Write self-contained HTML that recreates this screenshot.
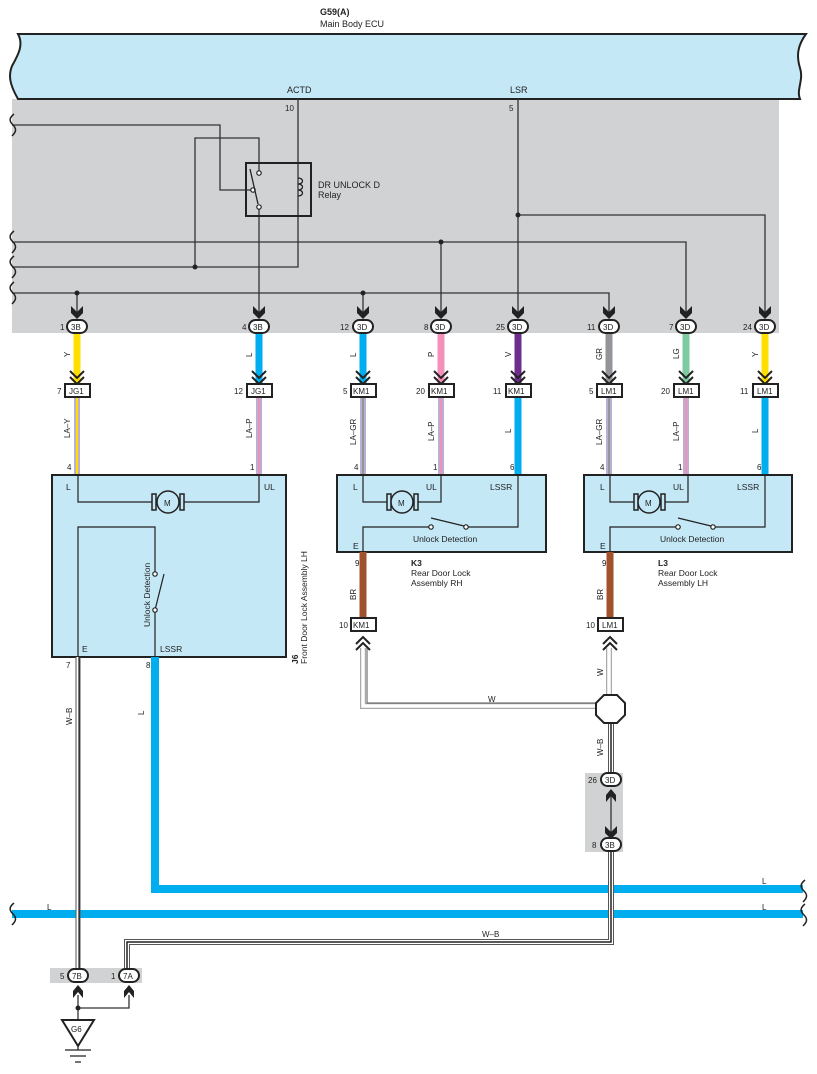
<!DOCTYPE html>
<html><head><meta charset="utf-8"><style>
html,body{margin:0;padding:0;background:#fff}
svg{display:block}
text{font-family:"Liberation Sans",sans-serif;fill:#222}
</style></head><body>
<svg width="817" height="1074" viewBox="0 0 817 1074" xmlns="http://www.w3.org/2000/svg">
<defs>
<g id="dn"><path d="M-6,-12 L0,-6 L6,-12 L6,-5 L0,1 L-6,-5 Z" fill="#222"/></g>
<g id="up"><path d="M-5,10 L0,4 L5,10 L5,3 L0,-3 L-5,3 Z" fill="#222"/></g>
<g id="dd"><path d="M-7,-12 L0,-5 L7,-12 M-7,-6 L0,1 L7,-6" fill="none" stroke="#222" stroke-width="2"/></g>
<g id="du"><path d="M-7,12 L0,5 L7,12 M-7,6 L0,-1 L7,6" fill="none" stroke="#222" stroke-width="2"/></g>
</defs>

<!-- gray area -->
<rect x="12" y="99" width="767" height="234" fill="#d1d2d4"/>
<!-- ECU -->
<path d="M18,34 L806,34 C798,45 796,55 800,68 C804,80 796,90 800,99 L18,99 C10,85 8,76 12,66 C18,55 24,45 18,34 Z" fill="#c5e8f7" stroke="#222" stroke-width="2"/>
<text x="320" y="15" font-size="9" font-weight="bold">G59(A)</text>
<text x="320" y="27" font-size="9">Main Body ECU</text>
<text x="287" y="93" font-size="9">ACTD</text>
<text x="510" y="93" font-size="9">LSR</text>
<text x="285" y="111" font-size="8">10</text>
<text x="509" y="111" font-size="8">5</text>

<!-- thin wires in gray area -->
<g fill="none" stroke="#333" stroke-width="1.3">
<path d="M298,99 V267 H12"/>
<path d="M195,267 V138 H259 V172"/>
<path d="M12,125 H220 V190 H252"/>
<path d="M259,207 V318"/>
<path d="M12,242 H686 V318"/>
<path d="M441,242 V318"/>
<path d="M12,293 H609 V318"/>
<path d="M77,293 V318"/>
<path d="M363,293 V318"/>
<path d="M518,99 V318"/>
<path d="M518,215 H765 V318"/>
</g>
<g fill="#222">
<circle cx="195" cy="267" r="2.5"/><circle cx="441" cy="242" r="2.5"/>
<circle cx="77" cy="293" r="2.5"/><circle cx="363" cy="293" r="2.5"/>
<circle cx="518" cy="215" r="2.5"/>
</g>
<!-- wavy left marks -->
<g fill="none" stroke="#222" stroke-width="1.5">
<path d="M14,114 C9,118 9,121 13,125 C17,129 16,132 12,136"/>
<path d="M14,231 C9,235 9,238 13,242 C17,246 16,249 12,253"/>
<path d="M14,256 C9,260 9,263 13,267 C17,271 16,274 12,278"/>
<path d="M14,282 C9,286 9,289 13,293 C17,297 16,300 12,304"/>
</g>
<!-- relay -->
<rect x="246" y="163" width="65" height="53" fill="none" stroke="#222" stroke-width="2"/>
<g fill="#fff" stroke="#222" stroke-width="1.2">
<circle cx="259" cy="173" r="2.2"/><circle cx="253" cy="190" r="2.2"/><circle cx="259" cy="207" r="2.2"/>
</g>
<path d="M250,169 L258,204" stroke="#222" stroke-width="1.3"/>
<path d="M298,178 c6,0 6,6 0,6 c6,0 6,6 0,6 c6,0 6,6 0,6" fill="none" stroke="#222" stroke-width="1.3"/>
<text x="318" y="188" font-size="9">DR UNLOCK D</text>
<text x="318" y="198" font-size="9">Relay</text>

<!-- down arrows and ovals -->
<g>
<use href="#dn" x="77" y="318"/><use href="#dn" x="259" y="318"/><use href="#dn" x="363" y="318"/>
<use href="#dn" x="441" y="318"/><use href="#dn" x="518" y="318"/><use href="#dn" x="609" y="318"/>
<use href="#dn" x="686" y="318"/><use href="#dn" x="765" y="318"/>
</g>
<!-- colored wires top -->
<g stroke-width="7">
<path d="M77,333 V383" stroke="#ffdf00"/>
<path d="M259,333 V383" stroke="#00aeef"/>
<path d="M363,333 V383" stroke="#00aeef"/>
<path d="M441,333 V383" stroke="#f48fb9"/>
<path d="M518,333 V383" stroke="#6d2c8e"/>
<path d="M609,333 V383" stroke="#939598"/>
<path d="M686,333 V383" stroke="#7fcba0"/>
<path d="M765,333 V383" stroke="#ffdf00"/>
</g>
<g font-size="8">
<text transform="translate(70,357) rotate(-90)">Y</text>
<text transform="translate(252,357) rotate(-90)">L</text>
<text transform="translate(356,357) rotate(-90)">L</text>
<text transform="translate(434,357) rotate(-90)">P</text>
<text transform="translate(511,357) rotate(-90)">V</text>
<text transform="translate(602,360) rotate(-90)">GR</text>
<text transform="translate(679,359) rotate(-90)">LG</text>
<text transform="translate(758,357) rotate(-90)">Y</text>
</g>
<g>
<use href="#dd" x="77" y="383"/><use href="#dd" x="259" y="383"/><use href="#dd" x="363" y="383"/>
<use href="#dd" x="441" y="383"/><use href="#dd" x="518" y="383"/><use href="#dd" x="609" y="383"/>
<use href="#dd" x="686" y="383"/><use href="#dd" x="765" y="383"/>
</g>
<!-- ovals -->
<g font-size="8">
<g fill="#fff" stroke="#222" stroke-width="2">
<rect x="67" y="320" width="20" height="13" rx="6.5"/><rect x="249" y="320" width="20" height="13" rx="6.5"/>
<rect x="353" y="320" width="20" height="13" rx="6.5"/><rect x="431" y="320" width="20" height="13" rx="6.5"/>
<rect x="508" y="320" width="20" height="13" rx="6.5"/><rect x="599" y="320" width="20" height="13" rx="6.5"/>
<rect x="676" y="320" width="20" height="13" rx="6.5"/><rect x="755" y="320" width="20" height="13" rx="6.5"/>
</g>
<text x="71" y="330">3B</text><text x="253" y="330">3B</text><text x="357" y="330">3D</text><text x="435" y="330">3D</text>
<text x="512" y="330">3D</text><text x="603" y="330">3D</text><text x="680" y="330">3D</text><text x="759" y="330">3D</text>
<text x="60" y="330">1</text><text x="242" y="330">4</text><text x="340" y="330">12</text><text x="424" y="330">8</text>
<text x="496" y="330">25</text><text x="587" y="330">11</text><text x="669" y="330">7</text><text x="743" y="330">24</text>
</g>

<!-- striped / plain wires middle -->
<g>
<path d="M77,397 V475" stroke="#b9aed3" stroke-width="6"/><path d="M77,397 V475" stroke="#ffdf00" stroke-width="2"/>
<path d="M259,397 V475" stroke="#b9aed3" stroke-width="6"/><path d="M259,397 V475" stroke="#f48fb9" stroke-width="2"/>
<path d="M363,397 V475" stroke="#b9aed3" stroke-width="6"/><path d="M363,397 V475" stroke="#939598" stroke-width="2"/>
<path d="M441,397 V475" stroke="#b9aed3" stroke-width="6"/><path d="M441,397 V475" stroke="#f48fb9" stroke-width="2"/>
<path d="M518,397 V475" stroke="#00aeef" stroke-width="7"/>
<path d="M609,397 V475" stroke="#b9aed3" stroke-width="6"/><path d="M609,397 V475" stroke="#939598" stroke-width="2"/>
<path d="M686,397 V475" stroke="#b9aed3" stroke-width="6"/><path d="M686,397 V475" stroke="#f48fb9" stroke-width="2"/>
<path d="M765,397 V475" stroke="#00aeef" stroke-width="7"/>
</g>
<g font-size="8">
<text transform="translate(70,438) rotate(-90)">LA–Y</text>
<text transform="translate(252,438) rotate(-90)">LA–P</text>
<text transform="translate(356,445) rotate(-90)">LA–GR</text>
<text transform="translate(434,441) rotate(-90)">LA–P</text>
<text transform="translate(511,433) rotate(-90)">L</text>
<text transform="translate(602,445) rotate(-90)">LA–GR</text>
<text transform="translate(679,441) rotate(-90)">LA–P</text>
<text transform="translate(758,433) rotate(-90)">L</text>
<text x="67" y="470">4</text><text x="250" y="470">1</text><text x="354" y="470">4</text><text x="433" y="470">1</text>
<text x="510" y="470">6</text><text x="600" y="470">4</text><text x="678" y="470">1</text><text x="757" y="470">6</text>
</g>
<!-- rect connectors -->
<g font-size="8">
<g fill="#fff" stroke="#222" stroke-width="2">
<rect x="65" y="384" width="25" height="13"/><rect x="247" y="384" width="25" height="13"/>
<rect x="351" y="384" width="25" height="13"/><rect x="429" y="384" width="25" height="13"/>
<rect x="506" y="384" width="25" height="13"/><rect x="597" y="384" width="25" height="13"/>
<rect x="674" y="384" width="25" height="13"/><rect x="753" y="384" width="25" height="13"/>
</g>
<text x="69" y="394">JG1</text><text x="251" y="394">JG1</text><text x="353" y="394">KM1</text><text x="431" y="394">KM1</text>
<text x="508" y="394">KM1</text><text x="601" y="394">LM1</text><text x="678" y="394">LM1</text><text x="757" y="394">LM1</text>
<text x="57" y="394">7</text><text x="234" y="394">12</text><text x="343" y="394">5</text><text x="416" y="394">20</text>
<text x="493" y="394">11</text><text x="589" y="394">5</text><text x="661" y="394">20</text><text x="740" y="394">11</text>
</g>

<!-- J6 box -->
<rect x="52" y="475" width="234" height="182" fill="#c5e8f7" stroke="#222" stroke-width="2"/>
<g fill="none" stroke="#222" stroke-width="1.2">
<path d="M78,475 V502 H156 M180,502 H259 V475"/>
<path d="M78,657 V527 H155 V573 M155,610 V657"/>
<path d="M155,610 L164,574"/>
</g>
<g fill="#fff" stroke="#222" stroke-width="1.2"><circle cx="155" cy="574" r="2.2"/><circle cx="155" cy="610" r="2.2"/></g>
<!-- motor J6 -->
<g stroke="#222" stroke-width="1.5" fill="#c5e8f7">
<rect x="152" y="494" width="4" height="16"/><rect x="180" y="494" width="4" height="16"/>
<circle cx="168" cy="502" r="11"/>
</g>
<text x="164" y="506" font-size="8">M</text>
<g font-size="8.5">
<text x="66" y="490">L</text><text x="264" y="490">UL</text>
<text x="82" y="652">E</text><text x="160" y="652">LSSR</text>
<text transform="translate(150,627) rotate(-90)">Unlock Detection</text>
<text x="66" y="668" font-size="8">7</text><text x="146" y="668" font-size="8">8</text>
</g>
<text transform="translate(298,664) rotate(-90)" font-size="8.5"><tspan font-weight="bold">J6</tspan></text>
<text transform="translate(307,664) rotate(-90)" font-size="8.5">Front Door Lock Assembly LH</text>

<!-- K3 and L3 boxes -->
<g id="rb">
<rect x="337" y="475" width="209" height="77" fill="#c5e8f7" stroke="#222" stroke-width="2"/>
<g fill="none" stroke="#222" stroke-width="1.2">
<path d="M363,475 V502 H391 M414,502 H441 V475"/>
<path d="M363,552 V527 H429 M466,527 H518 V475"/>
<path d="M431,518 L464,526"/>
</g>
<g fill="#fff" stroke="#222" stroke-width="1.2"><circle cx="431" cy="527" r="2.2"/><circle cx="466" cy="527" r="2.2"/></g>
<g stroke="#222" stroke-width="1.5" fill="#c5e8f7">
<rect x="387" y="494" width="4" height="16"/><rect x="414" y="494" width="4" height="16"/>
<circle cx="402" cy="502" r="11"/>
</g>
<text x="398" y="506" font-size="8">M</text>
<g font-size="8.5">
<text x="353" y="490">L</text><text x="426" y="490">UL</text><text x="490" y="490">LSSR</text>
<text x="353" y="549">E</text><text x="413" y="542">Unlock Detection</text>
</g>
<text x="355" y="566" font-size="8">9</text>
<path d="M363,552 V618" stroke="#a0522d" stroke-width="7"/>
<text transform="translate(356,600) rotate(-90)" font-size="8">BR</text>
<rect x="351" y="618" width="25" height="13" fill="#fff" stroke="#222" stroke-width="2"/>
<text x="353" y="628" font-size="8">KM1</text>
<text x="339" y="628" font-size="8">10</text>
<use href="#du" x="363" y="638"/>
</g>
<g transform="translate(247,0)">
<rect x="337" y="475" width="208" height="77" fill="#c5e8f7" stroke="#222" stroke-width="2"/>
<g fill="none" stroke="#222" stroke-width="1.2">
<path d="M363,475 V502 H391 M414,502 H441 V475"/>
<path d="M363,552 V527 H429 M466,527 H518 V475"/>
<path d="M431,518 L464,526"/>
</g>
<g fill="#fff" stroke="#222" stroke-width="1.2"><circle cx="431" cy="527" r="2.2"/><circle cx="466" cy="527" r="2.2"/></g>
<g stroke="#222" stroke-width="1.5" fill="#c5e8f7">
<rect x="387" y="494" width="4" height="16"/><rect x="414" y="494" width="4" height="16"/>
<circle cx="402" cy="502" r="11"/>
</g>
<text x="398" y="506" font-size="8">M</text>
<g font-size="8.5">
<text x="353" y="490">L</text><text x="426" y="490">UL</text><text x="490" y="490">LSSR</text>
<text x="353" y="549">E</text><text x="413" y="542">Unlock Detection</text>
</g>
<text x="355" y="566" font-size="8">9</text>
<path d="M363,552 V618" stroke="#a0522d" stroke-width="7"/>
<text transform="translate(356,600) rotate(-90)" font-size="8">BR</text>
<rect x="351" y="618" width="25" height="13" fill="#fff" stroke="#222" stroke-width="2"/>
<text x="355" y="628" font-size="8">LM1</text>
<text x="339" y="628" font-size="8">10</text>
<use href="#du" x="363" y="638"/>
</g>
<g font-size="8.5">
<text x="411" y="566" font-weight="bold">K3</text><text x="411" y="576">Rear Door Lock</text><text x="411" y="586">Assembly RH</text>
<text x="658" y="566" font-weight="bold">L3</text><text x="658" y="576">Rear Door Lock</text><text x="658" y="586">Assembly LH</text>
</g>

<!-- W wires -->
<g fill="none">
<path d="M363,648 V706 H600 M609,648 V695" stroke="#aaa" stroke-width="6"/>
<path d="M363,648 V706 H600 M609,648 V695" stroke="#fff" stroke-width="3.5"/>
<path d="M367,648 V703 H600" stroke="#555" stroke-width="1"/>
</g>
<text x="488" y="702" font-size="8">W</text>
<text transform="translate(603,676) rotate(-90)" font-size="8">W</text>
<!-- blue wires -->
<g fill="none" stroke="#00aeef" stroke-width="8">
<path d="M155,657 V889 H803"/>
<path d="M12,914 H803"/>
</g>
<g fill="none" stroke="#222" stroke-width="1.5">
<path d="M805,880 C800,884 800,887 804,891 C808,895 807,898 803,902"/>
<path d="M805,904 C800,908 800,911 804,915 C808,919 807,922 803,926"/>
<path d="M14,903 C9,907 9,910 13,914 C17,918 16,921 12,925"/>
</g>
<g font-size="8"><text x="147" y="710" transform="rotate(0)"></text>
<text x="762" y="884">L</text><text x="762" y="910">L</text><text x="47" y="910">L</text>
<text transform="translate(144,715) rotate(-90)">L</text>
</g>
<!-- W-B wires -->
<g fill="none">
<path d="M78,657 V968" stroke="#555" stroke-width="5"/>
<path d="M78,657 V968" stroke="#fff" stroke-width="3"/>
<path d="M79,657 V968" stroke="#222" stroke-width="1.2"/>
<path d="M611,722 V773 M611,852 V942 H127 V968" stroke="#555" stroke-width="6"/>
<path d="M611,722 V773 M611,852 V942 H127 V968" stroke="#fff" stroke-width="4"/>
<path d="M611,722 V773 M611,852 V942 H127 V968" stroke="#222" stroke-width="1.5"/>
</g>
<text transform="translate(72,725) rotate(-90)" font-size="8">W–B</text>
<text transform="translate(603,756) rotate(-90)" font-size="8">W–B</text>
<text x="482" y="937" font-size="8">W–B</text>
<!-- octagon splice -->
<path d="M604,695 L617,695 L625,703 L625,715 L617,723 L604,723 L596,715 L596,703 Z" fill="#fff" stroke="#222" stroke-width="2"/>
<!-- 3D/3B gray band -->
<rect x="585" y="773" width="38" height="79" fill="#d1d2d4"/>
<path d="M611,795 V832" stroke="#333" stroke-width="1.3"/>
<use href="#up" x="611" y="792"/>
<use href="#dn" x="611" y="838"/>
<g font-size="8">
<rect x="601" y="773" width="20" height="13" rx="6.5" fill="#fff" stroke="#222" stroke-width="2"/>
<rect x="601" y="838" width="20" height="13" rx="6.5" fill="#fff" stroke="#222" stroke-width="2"/>
<text x="605" y="783">3D</text><text x="605" y="848">3B</text>
<text x="588" y="783">26</text><text x="592" y="848">8</text>
</g>
<!-- ground connectors -->
<rect x="50" y="968" width="92" height="15" fill="#d1d2d4"/>
<g font-size="8">
<rect x="68" y="969" width="20" height="13" rx="6.5" fill="#fff" stroke="#222" stroke-width="2"/>
<rect x="119" y="969" width="20" height="13" rx="6.5" fill="#fff" stroke="#222" stroke-width="2"/>
<text x="72" y="979">7B</text><text x="123" y="979">7A</text>
<text x="60" y="979">5</text><text x="111" y="979">1</text>
</g>
<use href="#up" x="78" y="988"/><use href="#up" x="129" y="988"/>
<path d="M78,995 V1020 M78,1008 H129 V995" fill="none" stroke="#333" stroke-width="1.3"/>
<circle cx="78" cy="1008" r="2.5" fill="#222"/>
<path d="M62,1020 H94 L78,1046 Z" fill="#fff" stroke="#222" stroke-width="2"/>
<text x="71" y="1032" font-size="8">G6</text>
<path d="M78,1046 V1050 M65,1050 H91 M70,1056 H86 M75,1062 H81" stroke="#222" stroke-width="1.3"/>
</svg>
</body></html>
